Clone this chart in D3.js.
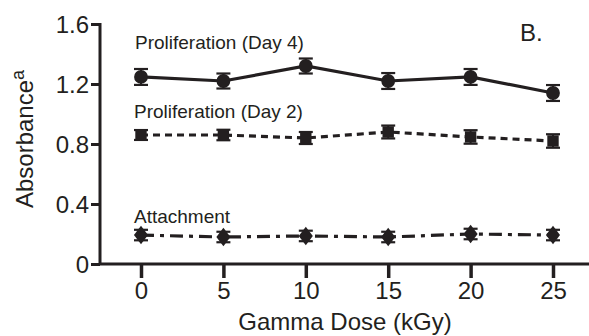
<!DOCTYPE html>
<html>
<head>
<meta charset="utf-8">
<style>
    body { margin: 0; background: #fff; }
    svg { display: block; }
    text { font-family: "Liberation Sans", Arial, sans-serif; fill: #231f20; }
    .tick text { font-size: 24px; }
    .axis-title { font-size: 24px; }
    .series-label { font-size: 19px; }
</style>
</head>
<body>
<svg width="589" height="336"></svg>
<script src="https://d3js.org/d3.v7.min.js"></script>
<script>
    // data
    let doses = [0, 5, 10, 15, 20, 25];
    let day4 = [1.247, 1.22, 1.32, 1.22, 1.247, 1.14];
    let day4Err = [0.053, 0.05, 0.05, 0.053, 0.053, 0.053];
    let day2 = [0.86, 0.86, 0.84, 0.88, 0.847, 0.82];
    let day2Err = [0.033, 0.035, 0.04, 0.043, 0.045, 0.045];
    let attach = [0.193, 0.18, 0.187, 0.18, 0.2, 0.193];
    let attachErr = [0.035, 0.035, 0.035, 0.035, 0.035, 0.035];
    let yTicks = [0, 0.4, 0.8, 1.2, 1.6];
    let xTicks = [0, 5, 10, 15, 20, 25];

    let svg = d3.select("svg");

    let x = d3.scaleLinear().domain([0, 25]).range([141, 553]);
    let y = d3.scaleLinear().domain([0, 1.6]).range([264, 24]);

    // axes
    let xAxis = svg.append("g")
        .attr("transform", "translate(0,264)")
        .call(d3.axisBottom(x).tickValues(xTicks).tickSize(14).tickPadding(4).tickSizeOuter(0));
    xAxis.select(".domain").remove();
    xAxis.selectAll(".tick line").attr("stroke", "#231f20").attr("stroke-width", 3.5);
    svg.append("line")
        .attr("x1", 100).attr("x2", 589)
        .attr("y1", 264).attr("y2", 264)
        .attr("stroke", "#231f20").attr("stroke-width", 3);

    let yAxis = svg.append("g")
        .attr("transform", "translate(100,0)")
        .call(d3.axisLeft(y).tickValues(yTicks).tickSize(9).tickPadding(2).tickFormat(d => d == 0 ? "0" : d3.format(".1f")(d)));
    yAxis.select(".domain").remove();
    yAxis.selectAll(".tick line").attr("stroke", "#231f20").attr("stroke-width", 3);
    yAxis.selectAll(".tick text").attr("dy", "0.36em");
    svg.append("line")
        .attr("x1", 100).attr("x2", 100)
        .attr("y1", 23).attr("y2", 265)
        .attr("stroke", "#231f20").attr("stroke-width", 3);

    // axis titles
    svg.append("text")
        .attr("class", "axis-title")
        .attr("x", 345).attr("y", 330)
        .attr("text-anchor", "middle")
        .text("Gamma Dose (kGy)");

    let yt = svg.append("text")
        .attr("class", "axis-title")
        .attr("transform", "translate(33,139) rotate(-90)")
        .attr("text-anchor", "middle");
    yt.append("tspan").text("Absorbance");
    yt.append("tspan").attr("dy", -9).attr("font-size", 18).text("a");

    let series = [
        { name: "day4", values: day4, err: day4Err, dash: null, marker: "circle" },
        { name: "day2", values: day2, err: day2Err, dash: "7,5", marker: "square" },
        { name: "attach", values: attach, err: attachErr, dash: "13,6,4,6", marker: "diamond" }
    ];

    let line = d3.line()
        .x((d, i) => x(doses[i]))
        .y(d => y(d));

    series.forEach(function (s) {
        let g = svg.append("g").attr("class", s.name);

        g.append("path")
            .attr("d", line(s.values))
            .attr("fill", "none")
            .attr("stroke", "#231f20")
            .attr("stroke-width", 3.2)
            .attr("stroke-dasharray", s.dash);

        // error bars
        s.values.forEach(function (v, i) {
            let cx = x(doses[i]);
            let top = y(v + s.err[i]);
            let bot = y(v - s.err[i]);
            g.append("line")
                .attr("x1", cx).attr("x2", cx).attr("y1", top).attr("y2", bot)
                .attr("stroke", "#231f20").attr("stroke-width", 2);
            [top, bot].forEach(function (cy) {
                g.append("line")
                    .attr("x1", cx - 7).attr("x2", cx + 7).attr("y1", cy).attr("y2", cy)
                    .attr("stroke", "#231f20").attr("stroke-width", 2.2);
            });
        });

        // markers
        let symbol;
        if (s.marker == "circle") symbol = d3.symbol().type(d3.symbolCircle).size(150);
        if (s.marker == "square") symbol = d3.symbol().type(d3.symbolSquare).size(130);
        if (s.marker == "diamond") symbol = d3.symbol().type(d3.symbolDiamond).size(110);
        g.selectAll("path.mark")
            .data(s.values)
            .join("path")
            .attr("class", "mark")
            .attr("transform", (d, i) => `translate(${x(doses[i])},${y(d)})` + (s.marker == "diamond" ? " scale(1.25,0.95)" : ""))
            .attr("d", symbol())
            .attr("fill", "#231f20");
    });

    // series labels
    svg.append("text").attr("class", "series-label").attr("x", 135).attr("y", 49).text("Proliferation (Day 4)");
    svg.append("text").attr("class", "series-label").attr("x", 134).attr("y", 118).text("Proliferation (Day 2)");
    svg.append("text").attr("class", "series-label").attr("x", 134).attr("y", 223).text("Attachment");

    svg.append("text")
        .attr("x", 520).attr("y", 41)
        .attr("font-size", 24)
        .text("B.");
</script>
</body>
</html>
